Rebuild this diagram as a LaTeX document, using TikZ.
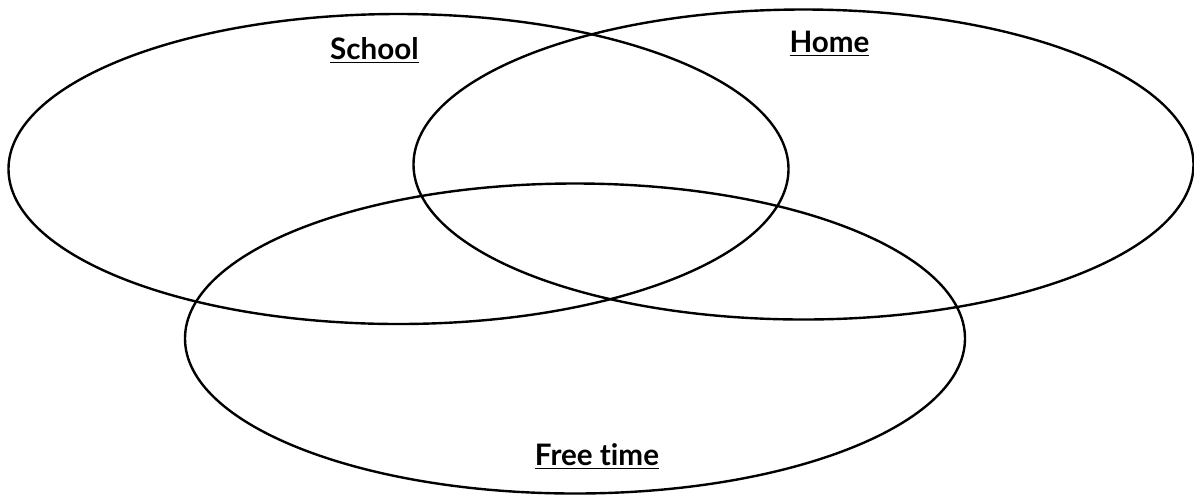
\documentclass[tikz,border=0pt]{standalone}
\usepackage{fontspec}
\setmainfont[Ligatures=NoCommon]{Lato}
\usetikzlibrary{shapes.geometric,positioning}

\tikzset{
    ring/.style={draw, ellipse, line width=1.2pt, inner sep=0pt,
        minimum width=390pt, minimum height=155pt},
    title/.style={font=\fontsize{14.8}{17}\selectfont\bfseries, inner sep=0pt, anchor=base}
}

\begin{document}
\begin{tikzpicture}[x=0.5pt,y=-0.5pt]
    % page frame
    \useasboundingbox (0,0) rectangle (1194,494);

    % Venn rings
    \node[ring] (school) at (398.5,169) {};
    \node[ring] (home) at (803.5,164.5) {};
    \node[ring] (freetime) at (575,338.5) {};

    % Headings
    \node[title] (schoollabel) at (374.5,59) {\underline{School}};
    \node[title] (homelabel) at (829.5,52) {\underline{Home}};
    \node[title] (freelabel) at (597,465) {\underline{Free time}};
\end{tikzpicture}
\end{document}
